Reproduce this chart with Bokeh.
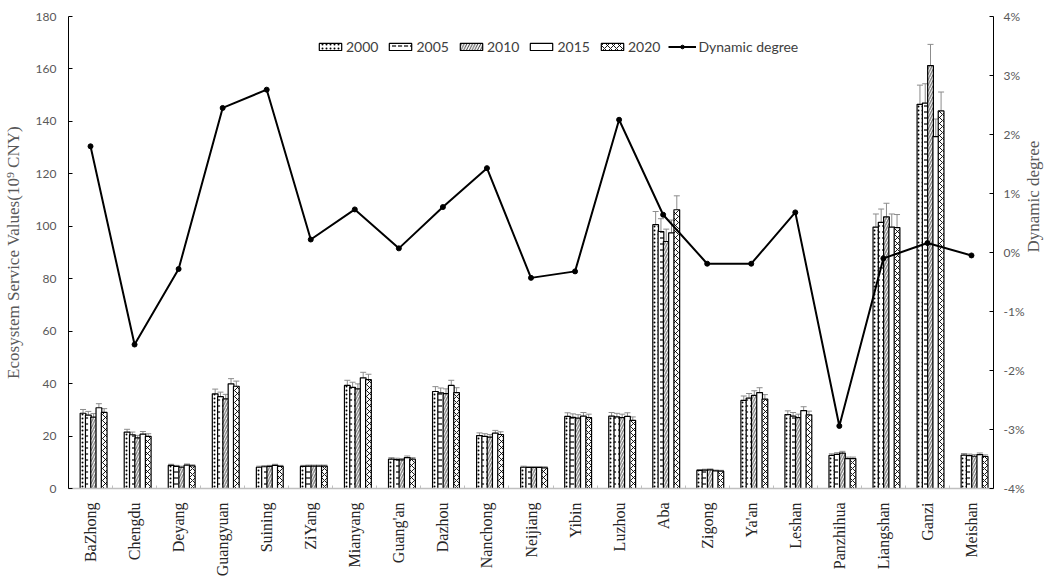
import numpy as np
from bokeh.plotting import figure
from bokeh.models import (ColumnDataSource, Range1d, LinearAxis, FixedTicker,
                          Whisker, TeeHead, Legend, LegendItem, PrintfTickFormatter)
from bokeh.transform import dodge
from bokeh.embed import file_html
from bokeh.resources import INLINE

cities = ["BaZhong", "Chengdu", "Deyang", "Guangyuan", "Suining", "ZiYang",
          "Mianyang", "Guang'an", "Dazhou", "Nanchong", "Neijiang", "Yibin",
          "Luzhou", "Aba", "Zigong", "Ya'an", "Leshan", "Panzhihua",
          "Liangshan", "Ganzi", "Meishan"]

years = ["2000", "2005", "2010", "2015", "2020"]

# Ecosystem service values, 10^9 CNY
esv_2000 = [28.7, 21.5, 8.8, 36.1, 8.1, 8.4, 39.3, 11.2, 37.0, 20.2, 8.1,
            27.5, 27.6, 100.6, 6.9, 33.6, 28.2, 12.6, 99.7, 146.5, 12.7]
esv_2005 = [28.0, 20.5, 8.4, 35.0, 8.3, 8.5, 38.6, 11.0, 36.5, 19.9, 8.0,
            27.1, 27.3, 98.0, 7.0, 34.5, 27.6, 13.0, 101.5, 147.0, 12.5]
esv_2010 = [27.2, 19.3, 8.1, 34.2, 8.4, 8.5, 38.0, 10.9, 36.2, 19.6, 8.0,
            26.8, 27.0, 94.2, 7.1, 35.5, 27.0, 13.5, 103.6, 161.3, 12.3]
esv_2015 = [30.8, 20.7, 8.9, 39.9, 8.8, 8.5, 42.2, 11.8, 39.3, 21.1, 8.0,
            27.6, 27.5, 97.5, 6.7, 36.6, 29.7, 11.4, 99.7, 134.2, 12.9]
esv_2020 = [29.0, 19.9, 8.6, 39.0, 8.4, 8.5, 41.5, 11.2, 36.6, 20.6, 7.9,
            27.0, 26.0, 106.3, 6.6, 34.1, 28.1, 11.4, 99.5, 144.0, 12.2]

# relative uncertainty of each year's estimate (error bars)
err_frac = [0.05, 0.05, 0.05, 0.05, 0.05]

# dynamic degree of ESV change, %
dynamic_degree = [1.80, -1.56, -0.28, 2.45, 2.76, 0.22, 0.73, 0.07, 0.77,
                  1.43, -0.43, -0.32, 2.25, 0.64, -0.19, -0.19, 0.68, -2.94,
                  -0.10, 0.16, -0.05]

series = [esv_2000, esv_2005, esv_2010, esv_2015, esv_2020]
hatches = ["dot", "horizontal_dash", "right_diagonal_line", " ", "diagonal_cross"]
hatch_scales = [4.0, 6.0, 5.5, 6.0, 6.0]
hatch_weights = [1.0, 1.2, 0.8, 1.0, 0.9]
offsets = [-0.17, -0.05, 0.07, 0.19, 0.31]
bar_w = 0.13

x = (np.arange(len(cities)) + 0.5).tolist()

p = figure(width=1055, height=581, x_range=Range1d(0, len(cities)),
           y_range=Range1d(0, 180), output_backend="svg", toolbar_location=None,
           min_border_left=62, min_border_right=61, min_border_top=16,
           min_border_bottom=93)
p.outline_line_color = None
p.xgrid.visible = False
p.ygrid.visible = False
p.background_fill_color = "white"
p.border_fill_color = "white"

tick_font = "Lato"
serif = "Liberation Serif"
grey_txt = "#595959"

# left axis
ly = p.yaxis[0]
ly.ticker = FixedTicker(ticks=list(range(0, 181, 20)))
ly.axis_label = "Ecosystem Service Values(10\u2079 CNY)"
ly.axis_label_text_font = serif
ly.axis_label_text_font_style = "normal"
ly.axis_label_text_font_size = "17px"
ly.axis_label_text_color = grey_txt
ly.axis_label_standoff = 10
ly.major_label_text_font = tick_font
ly.major_label_text_font_size = "12px"
ly.major_label_text_color = grey_txt
ly.axis_line_color = "black"
ly.major_tick_line_color = "black"
ly.major_tick_in = 4
ly.major_tick_out = 0
ly.minor_tick_line_color = None
ly.major_label_standoff = 12

# right axis
p.extra_y_ranges = {"dd": Range1d(-4, 4)}
ry = LinearAxis(y_range_name="dd", ticker=FixedTicker(ticks=list(range(-4, 5))),
                formatter=PrintfTickFormatter(format="%d%%"))
ry.axis_label = "Dynamic degree"
ry.axis_label_text_font = serif
ry.axis_label_text_font_style = "normal"
ry.axis_label_text_font_size = "17px"
ry.axis_label_text_color = grey_txt
ry.axis_label_orientation = np.pi / 2
ry.axis_label_standoff = 6
ry.major_label_text_font = tick_font
ry.major_label_text_font_size = "12px"
ry.major_label_text_color = grey_txt
ry.axis_line_color = "black"
ry.major_tick_line_color = "black"
ry.major_tick_in = 4
ry.major_tick_out = 0
ry.minor_tick_line_color = None
ry.major_label_standoff = 10
p.add_layout(ry, "right")

# category axis
xa = p.xaxis[0]
xa.ticker = FixedTicker(ticks=x, minor_ticks=list(range(len(cities) + 1)))
xa.major_label_overrides = {xi: c for xi, c in zip(x, cities)}
xa.major_label_orientation = np.pi / 2
xa.major_label_text_font = serif
xa.major_label_text_font_size = "16px"
xa.major_label_text_color = "#262626"
xa.major_tick_line_color = None
xa.minor_tick_line_color = "#bfbfbf"
xa.minor_tick_in = 3
xa.minor_tick_out = 0
xa.axis_line_color = "#bfbfbf"
xa.axis_line_width = 1.5
xa.major_label_standoff = 8

legend_items = []
for yr, vals, hp, hs, hw, off, ef in zip(years, series, hatches, hatch_scales,
                                         hatch_weights, offsets, err_frac):
    src = ColumnDataSource(dict(x=x, top=vals,
                                upper=[v * (1 + ef) for v in vals],
                                lower=[v * (1 - ef) for v in vals]))
    wk = Whisker(base=dodge("x", off), upper="upper", lower="lower", source=src,
                 line_color="#8c8c8c", line_width=1,
                 upper_head=TeeHead(size=6, line_color="#8c8c8c", line_width=1),
                 lower_head=TeeHead(size=6, line_color="#8c8c8c", line_width=1))
    wk.level = "underlay"
    p.add_layout(wk)
    r = p.vbar(x=dodge("x", off), top="top", width=bar_w, source=src,
               fill_color="white", line_color="black", line_width=1.2,
               hatch_pattern=hp, hatch_scale=hs, hatch_color="black",
               hatch_weight=hw)
    legend_items.append(LegendItem(label=yr, renderers=[r]))

ln = p.line(x, dynamic_degree, y_range_name="dd", line_color="black", line_width=2)
pt = p.scatter(x, dynamic_degree, y_range_name="dd", size=5, fill_color="black",
               line_color="black")
legend_items.append(LegendItem(label="Dynamic degree", renderers=[ln, pt]))

legend = Legend(items=legend_items, orientation="horizontal", location=(248, 433),
                background_fill_alpha=0, border_line_color=None,
                label_text_font=tick_font, label_text_font_size="14px",
                label_text_color="#404040", glyph_width=28, glyph_height=9,
                spacing=8, label_standoff=2, padding=0, margin=0)
p.add_layout(legend)

open("out.html", "w").write(file_html(p, INLINE))
